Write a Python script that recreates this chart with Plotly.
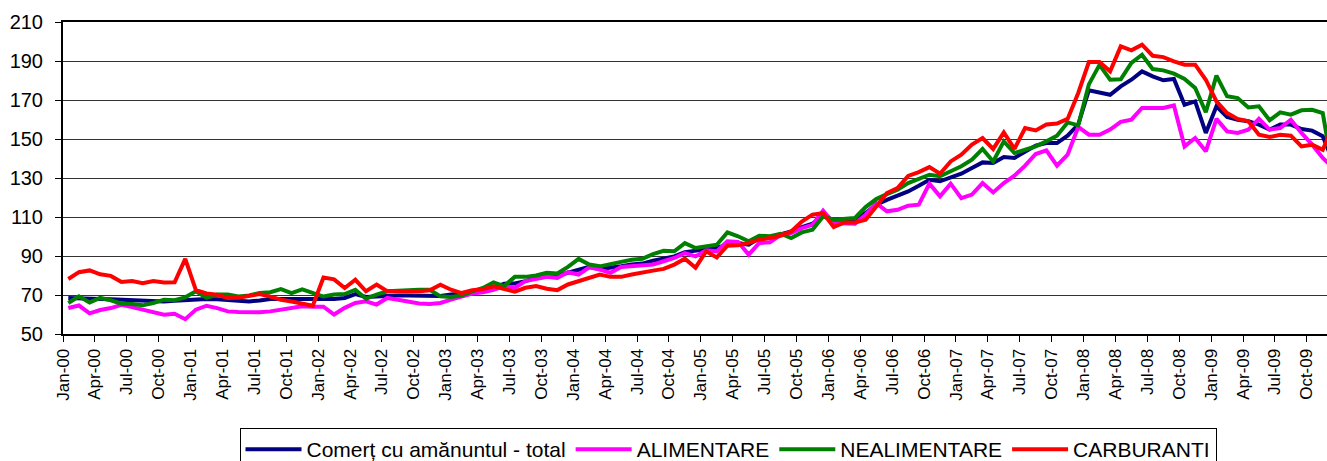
import plotly.graph_objects as go
import pandas as pd

# Monthly categories Jan-00 .. Dec-09
months = pd.date_range("2000-01-01", periods=120, freq="MS")
month_labels = [d.strftime("%b-%y") for d in months]

total = [
    68.5, 68.5, 68.0, 68.0, 67.8, 67.6, 67.4, 66.7, 66.7, 66.7,
    67.0, 67.3, 68.0, 68.0, 67.8, 67.5, 66.7, 66.7, 67.2, 68.0,
    68.0, 68.0, 67.8, 67.8, 67.8, 68.0, 68.5, 70.5, 69.0, 69.3,
    69.7, 69.7, 69.7, 69.5, 69.3, 69.5, 70.2, 70.5, 71.0, 72.4,
    73.8, 75.8, 75.9, 77.1, 78.8, 79.3, 80.0, 81.4, 83.0, 84.4,
    83.4, 83.9, 84.7, 85.6, 86.1, 87.6, 88.5, 89.8, 92.0, 92.5,
    93.4, 94.4, 95.8, 96.7, 95.8, 99.2, 99.7, 100.9, 102.6, 104.8,
    106.6, 110.6, 107.7, 108.6, 108.9, 112.0, 116.3, 118.8, 120.9, 123.1,
    126.0, 129.1, 128.3, 130.0, 132.2, 135.1, 138.0, 137.7, 140.8, 140.3,
    143.2, 146.6, 147.9, 147.9, 151.7, 157.4, 175.0, 173.9, 172.7, 177.0,
    180.4, 184.7, 182.1, 180.1, 180.8, 167.6, 169.3, 153.1, 166.8, 161.3,
    159.9, 159.1, 157.4, 154.8, 157.4, 157.4, 155.1, 154.3, 151.4, 138.0,
]

alimentare = [
    63.3, 64.6, 60.6, 62.3, 63.3, 65.0, 63.8, 62.5, 61.3, 59.9,
    60.4, 57.6, 62.5, 64.5, 63.3, 61.6, 61.3, 61.2, 61.1, 61.6,
    62.5, 63.6, 64.2, 64.0, 64.0, 60.0, 63.4, 65.9, 66.8, 65.1,
    68.5, 67.6, 66.4, 65.6, 65.4, 65.9, 67.6, 69.0, 70.7, 71.4,
    72.6, 74.6, 73.7, 77.1, 78.3, 79.3, 78.8, 81.7, 80.5, 84.2,
    83.0, 81.4, 84.4, 84.7, 85.1, 85.6, 87.3, 89.0, 91.5, 89.8,
    92.9, 92.4, 97.5, 97.2, 90.7, 96.7, 97.0, 100.9, 101.8, 104.3,
    106.0, 113.2, 106.9, 106.9, 106.6, 111.2, 117.1, 112.9, 113.7, 115.8,
    116.3, 127.1, 120.6, 127.1, 119.7, 121.5, 127.4, 122.6, 127.4, 131.2,
    136.3, 142.3, 144.2, 136.3, 142.0, 156.2, 152.2, 152.2, 154.8, 158.8,
    159.9, 165.9, 165.9, 165.9, 167.2, 146.2, 150.5, 143.7, 160.3, 153.9,
    153.1, 154.8, 160.3, 154.8, 155.6, 159.9, 153.1, 147.1, 140.3, 135.0,
]

nealimentare = [
    65.9, 69.3, 66.2, 68.5, 67.3, 65.5, 65.4, 64.7, 65.9, 67.6,
    67.3, 68.8, 71.9, 68.5, 70.2, 70.2, 69.3, 69.8, 71.0, 71.4,
    73.0, 71.0, 72.9, 71.0, 69.2, 70.2, 70.5, 72.7, 68.1, 70.2,
    71.9, 72.2, 72.7, 72.7, 72.7, 69.3, 69.0, 69.7, 71.9, 73.6,
    76.5, 74.6, 79.3, 79.3, 80.0, 81.4, 81.0, 84.4, 88.5, 85.6,
    84.7, 85.6, 87.0, 88.1, 88.6, 91.0, 92.7, 92.4, 96.6, 94.1,
    94.9, 95.8, 102.1, 100.1, 97.5, 100.4, 100.1, 101.4, 99.2, 102.1,
    103.5, 110.3, 108.6, 109.1, 109.5, 115.1, 119.2, 121.7, 124.0, 127.4,
    129.3, 131.7, 130.9, 133.4, 136.0, 139.4, 144.9, 138.5, 148.8, 142.8,
    144.5, 146.2, 148.8, 151.7, 158.5, 157.0, 178.0, 188.0, 180.4, 180.6,
    189.0, 193.2, 185.9, 185.2, 183.5, 180.8, 176.2, 163.7, 182.5, 171.9,
    171.0, 166.2, 166.8, 159.6, 163.7, 162.5, 164.7, 165.0, 163.3, 132.0,
]

carburanti = [
    78.2, 81.7, 82.6, 80.6, 79.8, 76.7, 77.2, 76.0, 77.2, 76.4,
    76.5, 88.5, 72.5, 70.8, 70.1, 68.5, 68.6, 69.5, 70.5, 69.2,
    67.6, 66.7, 65.5, 64.5, 79.0, 78.0, 73.6, 77.8, 71.9, 75.3,
    71.9, 71.9, 71.5, 71.9, 72.4, 75.3, 72.7, 71.0, 72.4, 73.0,
    74.5, 72.9, 71.7, 73.7, 74.6, 73.2, 72.5, 75.4, 77.1, 79.2,
    80.5, 79.3, 79.3, 80.5, 81.7, 82.5, 83.4, 85.6, 88.6, 84.0,
    92.4, 89.3, 95.3, 95.5, 96.7, 98.4, 99.2, 100.4, 102.6, 107.7,
    111.2, 112.0, 104.8, 107.2, 107.2, 108.6, 115.4, 122.3, 124.8, 131.1,
    133.0, 135.6, 132.2, 138.5, 142.0, 147.1, 150.5, 144.9, 153.4, 144.9,
    155.6, 154.4, 157.4, 157.9, 160.3, 173.6, 189.5, 189.5, 184.7, 197.5,
    195.5, 198.4, 192.7, 192.0, 189.8, 188.1, 188.1, 180.4, 169.3, 163.3,
    160.3, 159.1, 152.2, 151.0, 152.2, 151.7, 146.2, 147.1, 144.5, 157.0,
]

series_names = ["Comerț cu amănuntul - total", "ALIMENTARE", "NEALIMENTARE", "CARBURANTI"]
series_colors = ["#000080", "#FF00FF", "#008000", "#FF0000"]

# points sit mid-month; ticks at the start of each quarter month
x_pos = [i + 0.5 for i in range(len(months))]
tick_pos = list(range(0, len(months), 3))
tick_text = month_labels[::3]

fig = go.Figure()
for name, vals, col in zip(series_names, [total, alimentare, nealimentare, carburanti], series_colors):
    fig.add_trace(go.Scatter(x=x_pos, y=vals, mode="lines", name=name,
                             line=dict(color=col, width=4)))

fig.update_layout(
    width=1327, height=461,
    margin=dict(l=63, r=0, t=22, b=127),
    paper_bgcolor="white", plot_bgcolor="white",
    font=dict(family="Arial, Liberation Sans, sans-serif", color="black"),
    showlegend=True,
    legend=dict(orientation="h", xref="container", yref="container",
                x=728 / 1327, xanchor="center", y=1 - 428 / 461, yanchor="top",
                bordercolor="black", borderwidth=1, bgcolor="white",
                font=dict(size=21), itemwidth=56, tracegroupgap=0),
)
fig.update_xaxes(range=[0, 118.9], tickmode="array", tickvals=tick_pos, ticktext=tick_text,
                 tickangle=-90, ticks="outside", ticklen=6, tickcolor="black",
                 showline=True, linecolor="black", linewidth=2, mirror=True,
                 showgrid=False, zeroline=False, tickfont=dict(size=17))
fig.update_yaxes(range=[50, 210], tick0=50, dtick=20, ticks="outside", ticklen=6,
                 tickcolor="black", showline=True, linecolor="black", linewidth=2,
                 showgrid=True, gridcolor="#333333", gridwidth=1, zeroline=False,
                 tickfont=dict(size=20), ticklabelstandoff=8)

fig.write_html("out.html", config={"displayModeBar": False},
               post_script="document.body.style.margin='0';document.body.style.overflow='hidden';")
